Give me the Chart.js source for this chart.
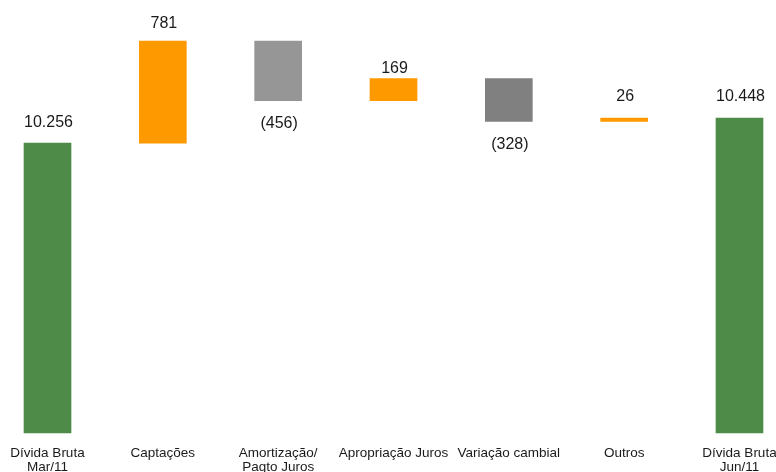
<!DOCTYPE html>
<html>
<head>
<meta charset="utf-8">
<script src="https://cdn.jsdelivr.net/npm/chart.js@4"></script>
<style>
html,body{margin:0;padding:0;background:#fff;overflow:hidden;}
#wrap{width:776px;height:472px;}
</style>
</head>
<body>
<div id="wrap"><canvas id="c" width="776" height="472"></canvas></div>
<script>
const categories = [["Dívida Bruta","Mar/11"],"Captações",["Amortização/","Pagto Juros"],"Apropriação Juros","Variação cambial","Outros",["Dívida Bruta","Jun/11"]];
const kinds = ["total","delta","delta","delta","delta","delta","total"];
const values = [10256, 781, -456, 169, -328, 26, 10448];
const valueLabels = ["10.256","781","(456)","169","(328)","26","10.448"];
const barColors = ["#4e8b48","#ff9900","#969696","#ff9900","#808080","#ff9900","#4e8b48"];
const labelGap = [16, 13, 15, 6, 15, 17, 17];

// build floating ranges
const ranges = [];
let running = 0;
for (let i = 0; i < values.length; i++) {
  if (kinds[i] === "total") { ranges.push([8036, values[i]]); running = values[i]; }
  else { const s = running; running += values[i]; ranges.push([Math.min(s, running), Math.max(s, running)]); }
}

const valueLabelPlugin = {
  id: 'valueLabels',
  afterDatasetsDraw(chart) {
    const ctx = chart.ctx;
    const meta = chart.getDatasetMeta(0);
    const y = chart.scales.y;
    ctx.save();
    ctx.font = '16px "Liberation Sans", Arial, sans-serif';
    ctx.fillStyle = '#1a1a1a';
    ctx.textAlign = 'center';
    meta.data.forEach((bar, i) => {
      const r = ranges[i];
      const x = bar.x + 1;
      if (values[i] >= 0) {
        ctx.textBaseline = 'alphabetic';
        ctx.fillText(valueLabels[i], x, y.getPixelForValue(r[1]) - labelGap[i]);
      } else {
        ctx.textBaseline = 'top';
        ctx.fillText(valueLabels[i], x, y.getPixelForValue(r[0]) + labelGap[i]);
      }
    });
    ctx.restore();
  }
};

new Chart(document.getElementById('c'), {
  type: 'bar',
  data: {
    labels: categories,
    datasets: [{
      data: ranges,
      backgroundColor: barColors,
      borderWidth: 0,
      barThickness: 47,
      clip: false
    }]
  },
  options: {
    responsive: false,
    animation: false,
    layout: { autoPadding: false, padding: { top: 10, left: 47.5, right: 36.5, bottom: 0 } },
    plugins: { legend: { display: false }, tooltip: { enabled: false } },
    scales: {
      x: {
        offset: false,
        grid: { display: false, drawTicks: false },
        border: { display: false },
        ticks: {
          autoSkip: false,
          maxRotation: 0,
          padding: 14,
          color: '#1a1a1a',
          font: { family: '"Liberation Sans", Arial, sans-serif', size: 13.5, lineHeight: 1.0 }
        },
        afterFit(scale) { scale.height = 39; scale.paddingLeft = 0; scale.paddingRight = 0; }
      },
      y: {
        display: false,
        min: 8036,
        max: 11275
      }
    }
  },
  plugins: [valueLabelPlugin]
});
</script>
</body>
</html>
